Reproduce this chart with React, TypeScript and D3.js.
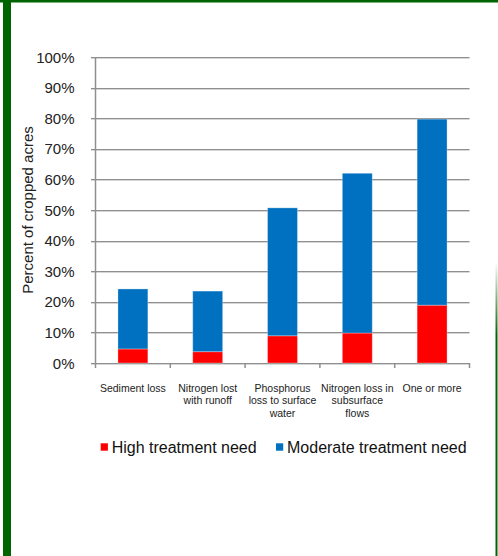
import React from "react";
import * as d3 from "d3";

// Share of cropped acres needing conservation treatment, by resource concern
const categories = [
  "Sediment loss",
  "Nitrogen lost with runoff",
  "Phosphorus loss to surface water",
  "Nitrogen loss in subsurface flows",
  "One or more",
];
const categoryLines = [
  ["Sediment loss"],
  ["Nitrogen lost", "with runoff"],
  ["Phosphorus", "loss to surface", "water"],
  ["Nitrogen loss in", "subsurface", "flows"],
  ["One or more"],
];
const highNeed = [4.6, 3.7, 8.9, 9.8, 18.9];
const moderateNeed = [19.6, 19.8, 41.8, 52.2, 60.8];
const yTicks = [0, 10, 20, 30, 40, 50, 60, 70, 80, 90, 100];
const seriesNames = ["High treatment need", "Moderate treatment need"];
const seriesColors = ["#ff0000", "#0070c0"];

const W = 498;
const H = 556;
const FONT = "'Liberation Sans', Arial, sans-serif";

export default function App() {
  const x = d3.scaleBand<string>().domain(categories).range([95.5, 469.5]).padding(0);
  const y = d3.scaleLinear().domain([0, 100]).range([363, 57]);
  const barW = x.bandwidth() * 0.4;

  const stack = d3
    .stack<number>()
    .keys(["high", "moderate"])
    .value((i, key) => (key === "high" ? highNeed[i] : moderateNeed[i]));
  const layers = stack(categories.map((_, i) => i));

  const gridGray = "#8f8f8f";

  return (
    <svg
      width={W}
      height={H}
      style={{ position: "absolute", left: 0, top: 0, background: "#fff" }}
      fontFamily={FONT}
    >
      <defs>
        <linearGradient id="rightEdge" x1="0" y1="0" x2="0" y2="1">
          <stop offset="0" stopColor="#006400" stopOpacity={0} />
          <stop offset="0.25" stopColor="#006400" stopOpacity={1} />
          <stop offset="1" stopColor="#006400" stopOpacity={1} />
        </linearGradient>
      </defs>
      <rect x={0} y={0} width={W} height={H} fill="#ffffff" />
      {/* frame */}
      <rect x={0} y={0} width={W} height={2.5} fill="#006400" />
      <rect x={3} y={0} width={8} height={H} fill="#006400" />
      <rect x={495.5} y={262} width={2} height={H - 262} fill="url(#rightEdge)" />

      {/* gridlines */}
      {yTicks.map((t) => {
        const yy = Math.round(y(t)) + 0.5;
        return (
          <g key={t}>
            <line x1={91} x2={469.5} y1={yy + 1} y2={yy + 1} stroke="#d6d6d6" strokeWidth={1} />
            <line x1={91} x2={469.5} y1={yy} y2={yy} stroke={gridGray} strokeWidth={1} />
          </g>
        );
      })}
      {/* y axis */}
      <line x1={95.5} x2={95.5} y1={y(100)} y2={y(0)} stroke={gridGray} strokeWidth={1.5} />
      {/* x axis ticks */}
      {[...categories.map((c) => x(c)!), 469.5].map((px, i) => (
        <line key={i} x1={px} x2={px} y1={y(0)} y2={y(0) + 5} stroke={gridGray} strokeWidth={1.5} />
      ))}

      {/* y tick labels */}
      {yTicks.map((t) => (
        <text
          key={t}
          x={74.5}
          y={y(t) + 5.5}
          textAnchor="end"
          fontSize={15}
          fill="#222"
        >
          {t}%
        </text>
      ))}

      {/* axis title */}
      <text
        transform={`translate(33, ${y(50)}) rotate(-90)`}
        textAnchor="middle"
        fontSize={15}
        fill="#222"
      >
        Percent of cropped acres
      </text>

      {/* stacked bars */}
      {layers.map((layer, li) => (
        <g key={li}>
          {layer.map((d, i) => {
            const cx = x(categories[i])! + x.bandwidth() / 2;
            return (
              <rect
                key={i}
                x={cx - barW / 2}
                y={y(d[1])}
                width={barW}
                height={y(d[0]) - y(d[1])}
                fill={seriesColors[li]}
                stroke="#ffffff"
                strokeOpacity={0.3}
                strokeWidth={1}
              />
            );
          })}
        </g>
      ))}

      {/* category labels */}
      {categoryLines.map((lines, i) => {
        const cx = x(categories[i])! + x.bandwidth() / 2;
        return (
          <text key={i} textAnchor="middle" fontSize={10.5} fill="#222">
            {lines.map((ln, j) => (
              <tspan key={j} x={cx} y={392 + j * 12.3}>
                {ln}
              </tspan>
            ))}
          </text>
        );
      })}

      {/* legend */}
      {seriesNames.map((name, i) => {
        const lx = i === 0 ? 100.7 : 276;
        return (
          <g key={name}>
            <rect x={lx} y={443.3} width={7.2} height={7.4} fill={seriesColors[i]} />
            <text x={lx + 11} y={453.3} fontSize={16} fill="#111">
              {name}
            </text>
          </g>
        );
      })}
    </svg>
  );
}
